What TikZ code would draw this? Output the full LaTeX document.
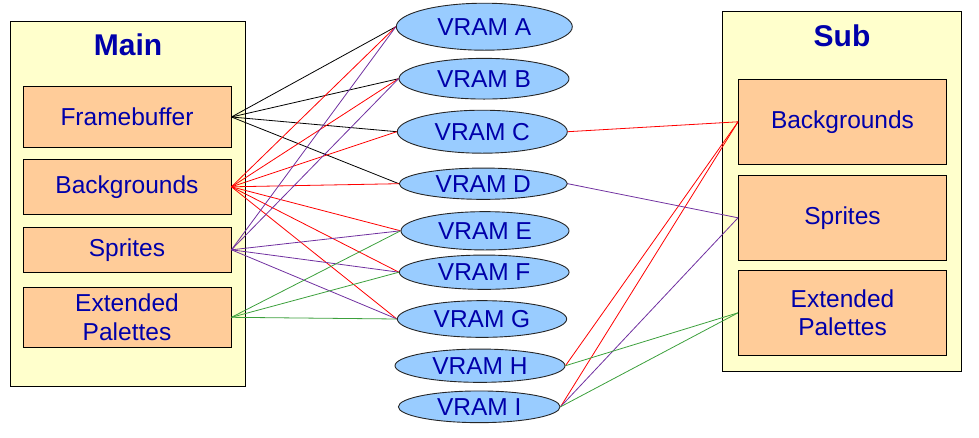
\documentclass[tikz,border=0pt]{standalone}
\usepackage{fontspec}
\setmainfont{Liberation Sans}
\usetikzlibrary{shapes.geometric}
\definecolor{panelyellow}{RGB}{255,255,204}
\definecolor{boxorange}{RGB}{255,204,153}
\definecolor{vramblue}{RGB}{153,204,255}
\definecolor{labelblue}{RGB}{0,0,170}
\definecolor{linkpurple}{RGB}{112,48,160}
\definecolor{linkgreen}{RGB}{60,160,60}

\begin{document}
\begin{tikzpicture}[x=1pt, y=-1pt, every node/.style={font=\fontsize{24.5}{28.5}\selectfont, text=labelblue},
	panel/.style={draw, fill=panelyellow, line width=0.9pt, inner sep=0pt},
	unit/.style={draw, fill=boxorange, line width=0.9pt, inner sep=0pt, align=center, minimum width=208pt},
	vram/.style={ellipse, draw=black!85, fill=vramblue, line width=0.9pt, inner sep=0pt},
	title/.style={font=\fontsize{30}{34}\selectfont\bfseries},
	link/.style={line width=0.8pt}]
	\useasboundingbox (0,0) rectangle (979,437);
	% engine panels
	\node[panel, minimum width=235pt, minimum height=365pt] (main) at (127.5,203.5) {};
	\node[panel, minimum width=239pt, minimum height=360pt] (sub) at (842,191) {};
	\node[title] (maintitle) at (128,45) {Main};
	\node[title] (subtitle) at (842,36) {Sub};
	% main engine
	\node[unit, minimum height=60.6pt] (fb) at (127,117) {Framebuffer};
	\node[unit, minimum height=55pt] (bg) at (127,186.8) {Backgrounds};
	\node[unit, minimum height=45pt] (sp) at (127,249.8) {Sprites};
	\node[unit, minimum height=60pt] (ep) at (127,317.3) {Extended\\Palettes};
	% sub engine
	\node[unit, minimum height=85pt] (sbg) at (842.5,121.8) {Backgrounds};
	\node[unit, minimum height=85pt] (ssp) at (842.5,217.8) {Sprites};
	\node[unit, minimum height=85pt] (sep) at (842.5,312.8) {Extended\\Palettes};
	% vram banks
	\node[vram, minimum width=176pt, minimum height=47pt] (va) at (484.3,26.7) {VRAM A};
	\node[vram, minimum width=170pt, minimum height=40.7pt] (vb) at (484,78.7) {VRAM B};
	\node[vram, minimum width=170pt, minimum height=43pt] (vc) at (482.3,131.7) {VRAM C};
	\node[vram, minimum width=168pt, minimum height=31.3pt] (vd) at (483.3,183.7) {VRAM D};
	\node[vram, minimum width=168pt, minimum height=38.3pt] (ve) at (485,230.8) {VRAM E};
	\node[vram, minimum width=169.7pt, minimum height=34.3pt] (vf) at (484.2,272.2) {VRAM F};
	\node[vram, minimum width=169.3pt, minimum height=36.7pt] (vg) at (482,319) {VRAM G};
	\node[vram, minimum width=170pt, minimum height=33.3pt] (vh) at (480,365.7) {VRAM H};
	\node[vram, minimum width=161.7pt, minimum height=31.7pt] (vi) at (479.2,406.8) {VRAM I};
	% main mappings
	\foreach \v in {va,vb,vc,vd} \draw[link, black] (fb.east) -- (\v.west);
	\foreach \v in {va,vb,vc,vd,ve,vf,vg} \draw[link, red] (bg.east) -- (\v.west);
	\foreach \v in {va,vb,ve,vf,vg} \draw[link, linkpurple] (sp.east) -- (\v.west);
	\foreach \v in {ve,vf,vg} \draw[link, linkgreen] (ep.east) -- (\v.west);
	% sub mappings
	\foreach \v in {vc,vh,vi} \draw[link, red] (\v.east) -- (sbg.west);
	\foreach \v in {vd,vi} \draw[link, linkpurple] (\v.east) -- (ssp.west);
	\foreach \v in {vh,vi} \draw[link, linkgreen] (\v.east) -- (sep.west);
\end{tikzpicture}
\end{document}
